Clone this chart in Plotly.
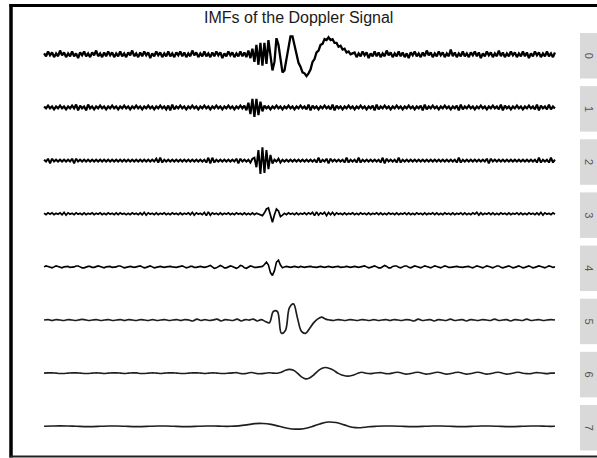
import numpy as np
import plotly.graph_objects as go

title_text = "IMFs of the Doppler Signal"
imf_labels = ["0", "1", "2", "3", "4", "5", "6", "7"]

imf0 = [
    1, -2, 3, -1, 2, -3, 1, -2, 4, -1,
    2, -3, 1, -2, 3, -2, 1, -4, 2, -1,
    3, -2, 1, -3, 2, -1, 4, -2, 1, -3,
    2, -2, 3, -1, 2, -3, 1, -2, 3, -2,
    1, -3, 2, -1, 4, -2, 1, -3, 2, -2,
    3, -1, 2, -4, 1, -2, 3, -1, 2, -3,
    1, -2, 3, -2, 1, -3, 2, -1, 3, -2,
    2, -3, 1, -2, 4, -1, 2, -3, 1, -2,
    3, -2, 1, -3, 2, -2, 3, -1, 2, -4,
    1, -2, 3, -1, 2, -3, 1, -2, 3, -2,
    2, -3, 4,
    -4, 6, -8, 10, -11, 12, -12, 12, -10, 15,
    0, -17, -8, 17, 10, -4, -19, -17, -5, 10,
    19, 19, 10, 1, -9, -13, -19, -20, -23, -20,
    -16, -8, -5, 2, 4, 10, 11, 16, 15, 18,
    15, 16, 12, 12, 8, 9, 5, 6, 2, 3,
    0, 1,
    2, -3, 1, -2, 3, -1, 2, -4, 1, -2,
    3, -2, 2, -3, 1, -2, 4, -1, 2, -3,
    1, -2, 3, -2, 2, -3, 1, -4, 2, -1,
    3, -2, 1, -3, 2, -2, 4, -1, 2, -3,
    1, -2, 3, -1, 2, -3, 1, -2, 5, -2,
    2, -3, 1, -2, 3, -2, 1, -3, 2, -1,
    3, -2, 2, -4, 1, -2, 3, -1, 2, -3,
    1, -2, 4, -2, 2, -3, 1, -2, 3, -1,
    2, -3, 1, -2, 3, -2, 2, -4, 1, -2,
    3, -1, 2, -3, 1, -2, 3, -2, 1, -3, 2,
]

imf1 = [
    1, -1, 2, -1, 1, -2, 1, -1, 2, -1,
    1, -2, 1, -1, 2, -1, 3, -3, 2, -1,
    1, -3, 3, -1, 1, -2, 1, -1, 2, -1,
    1, -2, 1, -1, 2, -1, 1, -2, 1, -1,
    2, -1, 1, -2, 1, -1, 2, -1, 1, -2,
    1, -1, 2, -1, 1, -2, 1, -1, 2, -1,
    1, -2, 2, -3, 3, -2, 1, -1, 2, -1,
    1, -2, 1, -1, 2, -1, 1, -2, 1, -1,
    2, -1, 1, -2, 1, -1, 2, -1, 1, -2,
    1, -1, 2, -1, 1, -2, 1, -1, 2, -1,
    2, -3, 5, -7, 9, -10, 9, -8, 6, -4, 2,
    -1, 1, -2, 1, -1, 2, -1, 1, -2, 1,
    -1, 2, -1, 1, -2, 1, -1, 2, -1, 1,
    -2, 3, -3, 2, -1, 1, -2, 1, -1, 2,
    -1, 1, -2, 3, -3, 2, -1, 1, -2, 1,
    -1, 2, -1, 1, -2, 1, -1, 2, -1, 1,
    -2, 1, -1, 2, -3, 3, -2, 1, -1, 2,
    -1, 1, -2, 1, -1, 2, -1, 1, -2, 1,
    -1, 2, -1, 1, -2, 1, -1, 2, -3, 3,
    -2, 1, -1, 2, -1, 1, -2, 1, -1, 2,
    -1, 1, -2, 1, -1, 2, -3, 3, -2, 1,
    -1, 2, -1, 1, -2, 1, -1, 2, -1, 1,
    -2, 1, -1, 2, -1, 1, -2, 3, -3, 2,
    -1, 1, -2, 1, -1, 2, -1, 1, -2, 1,
    -1, 2, -1, 1, -2, 3, -3, 2, -1, 1,
    -2, 3, -2, 1, -1,
]

imf2 = [
    1, -1, 2, -3, 2, -1, 1, -1, 1, -1,
    1, -1, 1, -1, 2, -3, 2, -1, 1, -1,
    1, -1, 1, -1, 1, -1, 1, -1, 1, -1,
    1, -1, 1, -1, 1, -1, 1, -1, 1, -1,
    1, -1, 1, -1, 1, -1, 1, -1, 1, -1,
    1, -1, 1, -1, 1, -1, 2, -2, 3, -2,
    1, -1, 1, -1, 1, -1, 1, -1, 1, -1,
    1, -1, 1, -1, 1, -1, 1, -1, 1, -1,
    1, -2, 3, -3, 3, -2, 1, -1, 1, -1,
    1, -1, 1, -1, 1, -1, 2, -3, 2, -1,
    1, -1, 1, -2, 2,
    3, -7, 11, -14, 14, -13, 11, -9, 6, -3, 1,
    -1, 2, -2, 1, -1, 1, -1, 1, -1, 1,
    -1, 1, -1, 1, -1, 1, -1, 1, -1, 1,
    -2, 3, -2, 1, -1, 2, -3, 2, -1, 1,
    -1, 1, -1, 1, -2, 3, -2, 1, -1, 1,
    -2, 3, -2, 1, -1, 1, -1, 1, -1, 1,
    -1, 1, -2, 3, -3, 2, -1, 1, -1, 1,
    -2, 3, -2, 1, -1, 1, -1, 1, -1, 1,
    -1, 1, -1, 1, -1, 1, -1, 1, -1, 1,
    -1, 1, -1, 1, -1, 1, -1, 1, -1, 1,
    -2, 3, -2, 1, -1, 1, -1, 1, -1, 1,
    -1, 1, -1, 1, -1, 2, -3, 2, -1, 1,
    -1, 1, -1, 1, -1, 1, -1, 1, -1, 1,
    -1, 1, -1, 1, -1, 1, -1, 1, -1, 1,
    -2, 3, -2, 1, -1, 1, -2, 3, -2, 1,
]

imf3 = [
    0.5, -1, 1, -0.5, 1, -1, 0.5, -0.5, 1, -1, 1.5, -1.5, 1, -0.5, 0.5, -1,
    1, -0.5, 0.5, -1, 1, -1, 0.5, -0.5, 1, -1, 0.5, -0.5, 1, -1, 0.5, -1,
    1, -0.5, 0.5, -1, 1, -1, 1, -0.5, 0.5, -1, 0.5, -1, 1, -0.5, 0.5, -1,
    1, -1, 1.5, -1.5, 1, -0.5, 0.5, -1, 1, -1, 0.5, -0.5, 1, -1, 0.5, -1,
    1, -0.5, 0.5, -1, 1, -1, 0.5, -0.5, 1, -1, 1.5, -1.5, 1, -0.5, 0.5, -1,
    1.5, -2, 2, -1.5, 1, -0.5, 0.5, -1, 1, -1, 0.5, -0.5, 1, -1, 0.5, -1,
    1, -0.5, 0.5, -1, 1, -1, 0.5, -1, 1, -1, 0.5, -0.5, -1, -2, 1, 5,
    6, -3, -9, -1, 5, 3, -3, -1.5, 0.5, -1, 1, -0.5, 0.5, -1, 1, -1,
    0.5, -0.5, 1, -1, 1, -0.5, 1.5, -2, 2, -1.5, 1, -0.5, 1.5, -2, 1.5, -1,
    1.5, -1.5, 1, -0.5, 0.5, -1, 1, -1, 0.5, -0.5, 1, -1, 0.5, -1, 1, -0.5,
    0.5, -1, 1, -1, 0.5, -0.5, 1, -1, 1, -1, 0.5, -1, 1, -0.5, 0.5, -1,
    1, -1, 0.5, -0.5, 1, -1, 1, -1, 0.5, -1, 1, -0.5, 0.5, -1, 1, -1,
    0.5, -0.5, 1, -1, 1, -1, 0.5, -1, 1, -0.5, 0.5, -1, 1, -1, 0.5, -0.5,
    1, -1, 1, -1, 0.5, -1, 1, -0.5, 1.5, -1.5, 1, -1, 0.5, -0.5, 1, -1,
    1, -1, 0.5, -1, 1, -0.5, 0.5, -1, 1, -1, 0.5, -0.5, 1, -1, 1, -1,
    0.5, -1, 1, -0.5, 0.5, -1, 1, -1, 1.5, -1.5, 1, -0.5, 0.5, -1, 1, -0.5,
]

imf4 = [
    0, 1, 0.5, -0.5, -1, 0, 1, 0.5, -0.5, -1, 0, 0.5, 0.5, -0.5, -0.5, 0,
    1, 1, 0, -1, -1, 0, 0.5, 0.5, -0.5, -0.5, 0, 1, 0.5, -0.5, -1, 0,
    0.5, 0.5, -0.5, -0.5, 0, 1, 1, 0, -1, -0.5, 0, 0.5, 0, -0.5, 0, 0.5,
    1, 0, -1, -0.5, 0.5, 1, 0, -1, -0.5, 0, 0.5, 0, -0.5, 0, 0.5, 0.5,
    0, -0.5, -0.5, 0, 0.5, 1, 0, -1, -0.5, 0.5, 0.5, -0.5, -0.5, 0, 0.5, 0,
    -0.5, 0, 1, 1.5, 0, -1.5, -1, 0.5, 1.5, 0.5, -1, -1, 0, 1, 0.5, -0.5,
    -1.5, -0.5, 1.5, 1, -1, -1.5, 0, 1, 0.5, -0.5, -0.5, 0, 0, 0.5, 2.5, 5,
    2, -6, -9, -4, 5, 7, 2, -1, 0, 0.5, 0, -0.5, 0, 0.5, 0, -0.5,
    0.5, 0, -0.5, 0, 0.5, 0.5, 0, -0.5, -0.5, 0, 0.5, 0, -0.5, 0, 0.5, 0,
    -0.5, 0, 0.5, 0.5, -0.5, -0.5, 0, 0.5, 0, -0.5, 0, 0.5, 0, -0.5, 0, 0.5,
    1, 0, -1, -0.5, 0.5, 1, 0, -1, -1, 0.5, 1.5, 0.5, -1, -1, 0.5, 1,
    1, -0.5, -1, 0, 1, 1, -0.5, -1, 0, 1, 0.5, -0.5, -1, 0, 1, 0.5,
    -0.5, -1, 0, 1, 0.5, -0.5, -1, 0, 1, 0.5, -0.5, -0.5, 0, 0.5, 0.5, 0,
    -0.5, -0.5, 0, 0.5, 0.5, -0.5, -1, 0, 1, 0.5, -0.5, -1, 0, 1, 0.5, -0.5,
    -1, 0, 1, 1, -0.5, -1, -0.5, 0.5, 1, 0, -1, -0.5, 0.5, 1, 0, -1,
    -0.5, 0.5, 1, 0, -1, -0.5, 0.5, 1, 0.5, -0.5, -1, 0, 1, 0.5, -0.5, 0,
]

imf5 = [
    0, 0.5, -0.5, 0.5, 0, -0.5, 0.5, 0, -0.5, 0.5, 0.5, -0.5, 0, 0.5, -0.5, 0,
    0.5, -0.5, 0, 0.5, -0.5, 0.5, 0, -0.5, 0.5, 0, -0.5, 0.5, -0.5, 0, 0.5, -0.5,
    0, 0.5, -0.5, 0.5, 0, -1, 1, -0.5, 0.5, -0.5, 0, 1, -1, 0.5, 0, -0.5,
    1, -1, 0.5, 0, 1, -1, 0.5, -1.5, -3, 9, 9, -14, -11, 13, 17, 2,
    -12, -14, -9, -3, 1, 3, 1, 0, -0.5, 0.5, 0, -0.5, 0.5, 0, -0.5, 0.5,
    0, -0.5, 0.5, -0.5, 0, 0.5, -0.5, 0.5, 0, -0.5, 0.5, 0, -1, 1, -0.5, 0,
    0.5, -1, 0.5, 0, -0.5, 1, -0.5, 0, 0.5, -1, 0.5, 0, -0.5, 0.5, 0, -0.5,
    1, -0.5, 0, 0.5, -1, 0.5, 0, -0.5, 1, -0.5, 0, 0.5, -0.5, 0, 0.5, 0,
]

imf6 = [
    0, 0.3, 0.3, 0, -0.3, -0.3, 0, 0.3, 0.3, 0, -0.3, -0.3, 0, 0.3, 0, -0.3,
    0, 0.3, 0.3, 0, -0.3, 0, 0.3, 0.3, -0.3, -0.3, 0, 0.3, 0, -0.3, 0, 0.3,
    0.3, 0, -0.3, -0.3, 0, 0.3, 0.3, 0, -0.3, 0, 0.3, 0, -0.3, -0.3, 0, 0.3,
    0.5, -0.5, -0.5, 0.5, 0.5, -0.5, -0.5, 0, 0.5, 0, 0, 1, 3, 4, 3, 0,
    -4, -6, -5, -2, 2, 5, 6, 5, 3, 0, -2, -3, -3, -2, 0, 1,
    0, -0.5, 0, 0.5, 0.5, -0.5, -0.5, 0.5, 1, 0, -1, -0.5, 0.5, 1, 0, -1,
    -0.5, 0.5, 1, 0, -1, -0.5, 0.5, 1, 0, -1, -0.5, 0.5, 1, 0, -1, -0.5,
    0.5, 1, 0, -1, -0.5, 0.5, 1, 0, -0.5, -0.5, 0.5, 0.5, 0, -0.5, 0, 0,
]

imf7 = [
    0, 0.3, 0.5, 0.3, 0, -0.3, -0.3, 0, 0.3, 0.3, 0, -0.3, -0.3, 0, 0.3, 0.3,
    0, -0.3, -0.3, 0, 0.3, 0.3, 0, 0, 0.5, 1.5, 2.8, 3, 2, 0, -2, -3,
    -2.5, -0.5, 2.5, 4.5, 4, 1.5, -1, -1.5, -0.5, 0, 0.3, 0.3, 0, -0.3, -0.3, 0,
    0.3, 0.3, 0, -0.3, -0.3, 0, 0.3, 0.3, 0, -0.3, -0.3, 0, 0.3, 0.3, 0, 0,
]

series = [imf0, imf1, imf2, imf3, imf4, imf5, imf6, imf7]
line_widths = [2.3, 2.2, 2.0, 1.7, 1.6, 1.7, 1.6, 1.6]

W, H = 597, 458
TOP0, PITCH, PH = 33.0, 53.14, 45.5
PX0, PX1 = 18.5, 580.5

def px(x):
    return x / W

def py(y):
    return 1 - y / H

fig = go.Figure()
shapes = []
annotations = []
layout_axes = {}

for k, vals in enumerate(series):
    t = np.linspace(0.0, 1.0, len(vals))
    yname = "y" if k == 0 else f"y{k + 1}"
    smooth = k >= 5
    fig.add_trace(go.Scatter(
        x=t, y=vals, mode="lines", xaxis="x", yaxis=yname,
        line=dict(color="#000000" if k < 5 else "#1e1e1e", width=line_widths[k],
                  shape="spline" if smooth else "linear"),
        showlegend=False, hoverinfo="skip",
    ))
    top = TOP0 + PITCH * k
    bot = top + PH
    key = "yaxis" if k == 0 else f"yaxis{k + 1}"
    layout_axes[key] = dict(domain=[py(bot), py(top)], range=[-25.5, 22.5],
                            visible=False, fixedrange=True, anchor="x")
    shapes.append(dict(type="rect", xref="paper", yref="paper",
                       x0=px(580), x1=px(598), y0=py(bot), y1=py(top),
                       fillcolor="#d9d9d9", line=dict(width=0), layer="below"))
    annotations.append(dict(text=imf_labels[k], xref="paper", yref="paper",
                            x=px(589), y=py(top + PH / 2), showarrow=False,
                            textangle=90, xanchor="center", yanchor="middle",
                            font=dict(family="Liberation Sans, Arial, sans-serif",
                                      size=11, color="#555555")))

# frame lines
shapes.append(dict(type="line", xref="paper", yref="paper",
                   x0=px(9.5), x1=px(600), y0=py(5.5), y1=py(5.5),
                   line=dict(color="#000000", width=3)))
shapes.append(dict(type="line", xref="paper", yref="paper",
                   x0=px(11), x1=px(11), y0=py(4), y1=py(457.5),
                   line=dict(color="#000000", width=3.5)))
shapes.append(dict(type="line", xref="paper", yref="paper",
                   x0=px(9.5), x1=px(600), y0=py(456.5), y1=py(456.5),
                   line=dict(color="#222222", width=2)))

annotations.append(dict(text=title_text, xref="paper", yref="paper",
                        x=px(298.5), y=py(17.5), showarrow=False,
                        xanchor="center", yanchor="middle",
                        font=dict(family="Liberation Sans, Arial, sans-serif",
                                  size=16, color="#1a1a1a")))

fig.update_layout(
    width=W, height=H,
    margin=dict(l=0, r=0, t=0, b=0),
    paper_bgcolor="white", plot_bgcolor="white",
    xaxis=dict(domain=[px(PX0), px(PX1)], range=[-0.05, 1.05],
               visible=False, fixedrange=True),
    shapes=shapes, annotations=annotations,
    showlegend=False,
    **layout_axes,
)

fig.write_html("out.html")
